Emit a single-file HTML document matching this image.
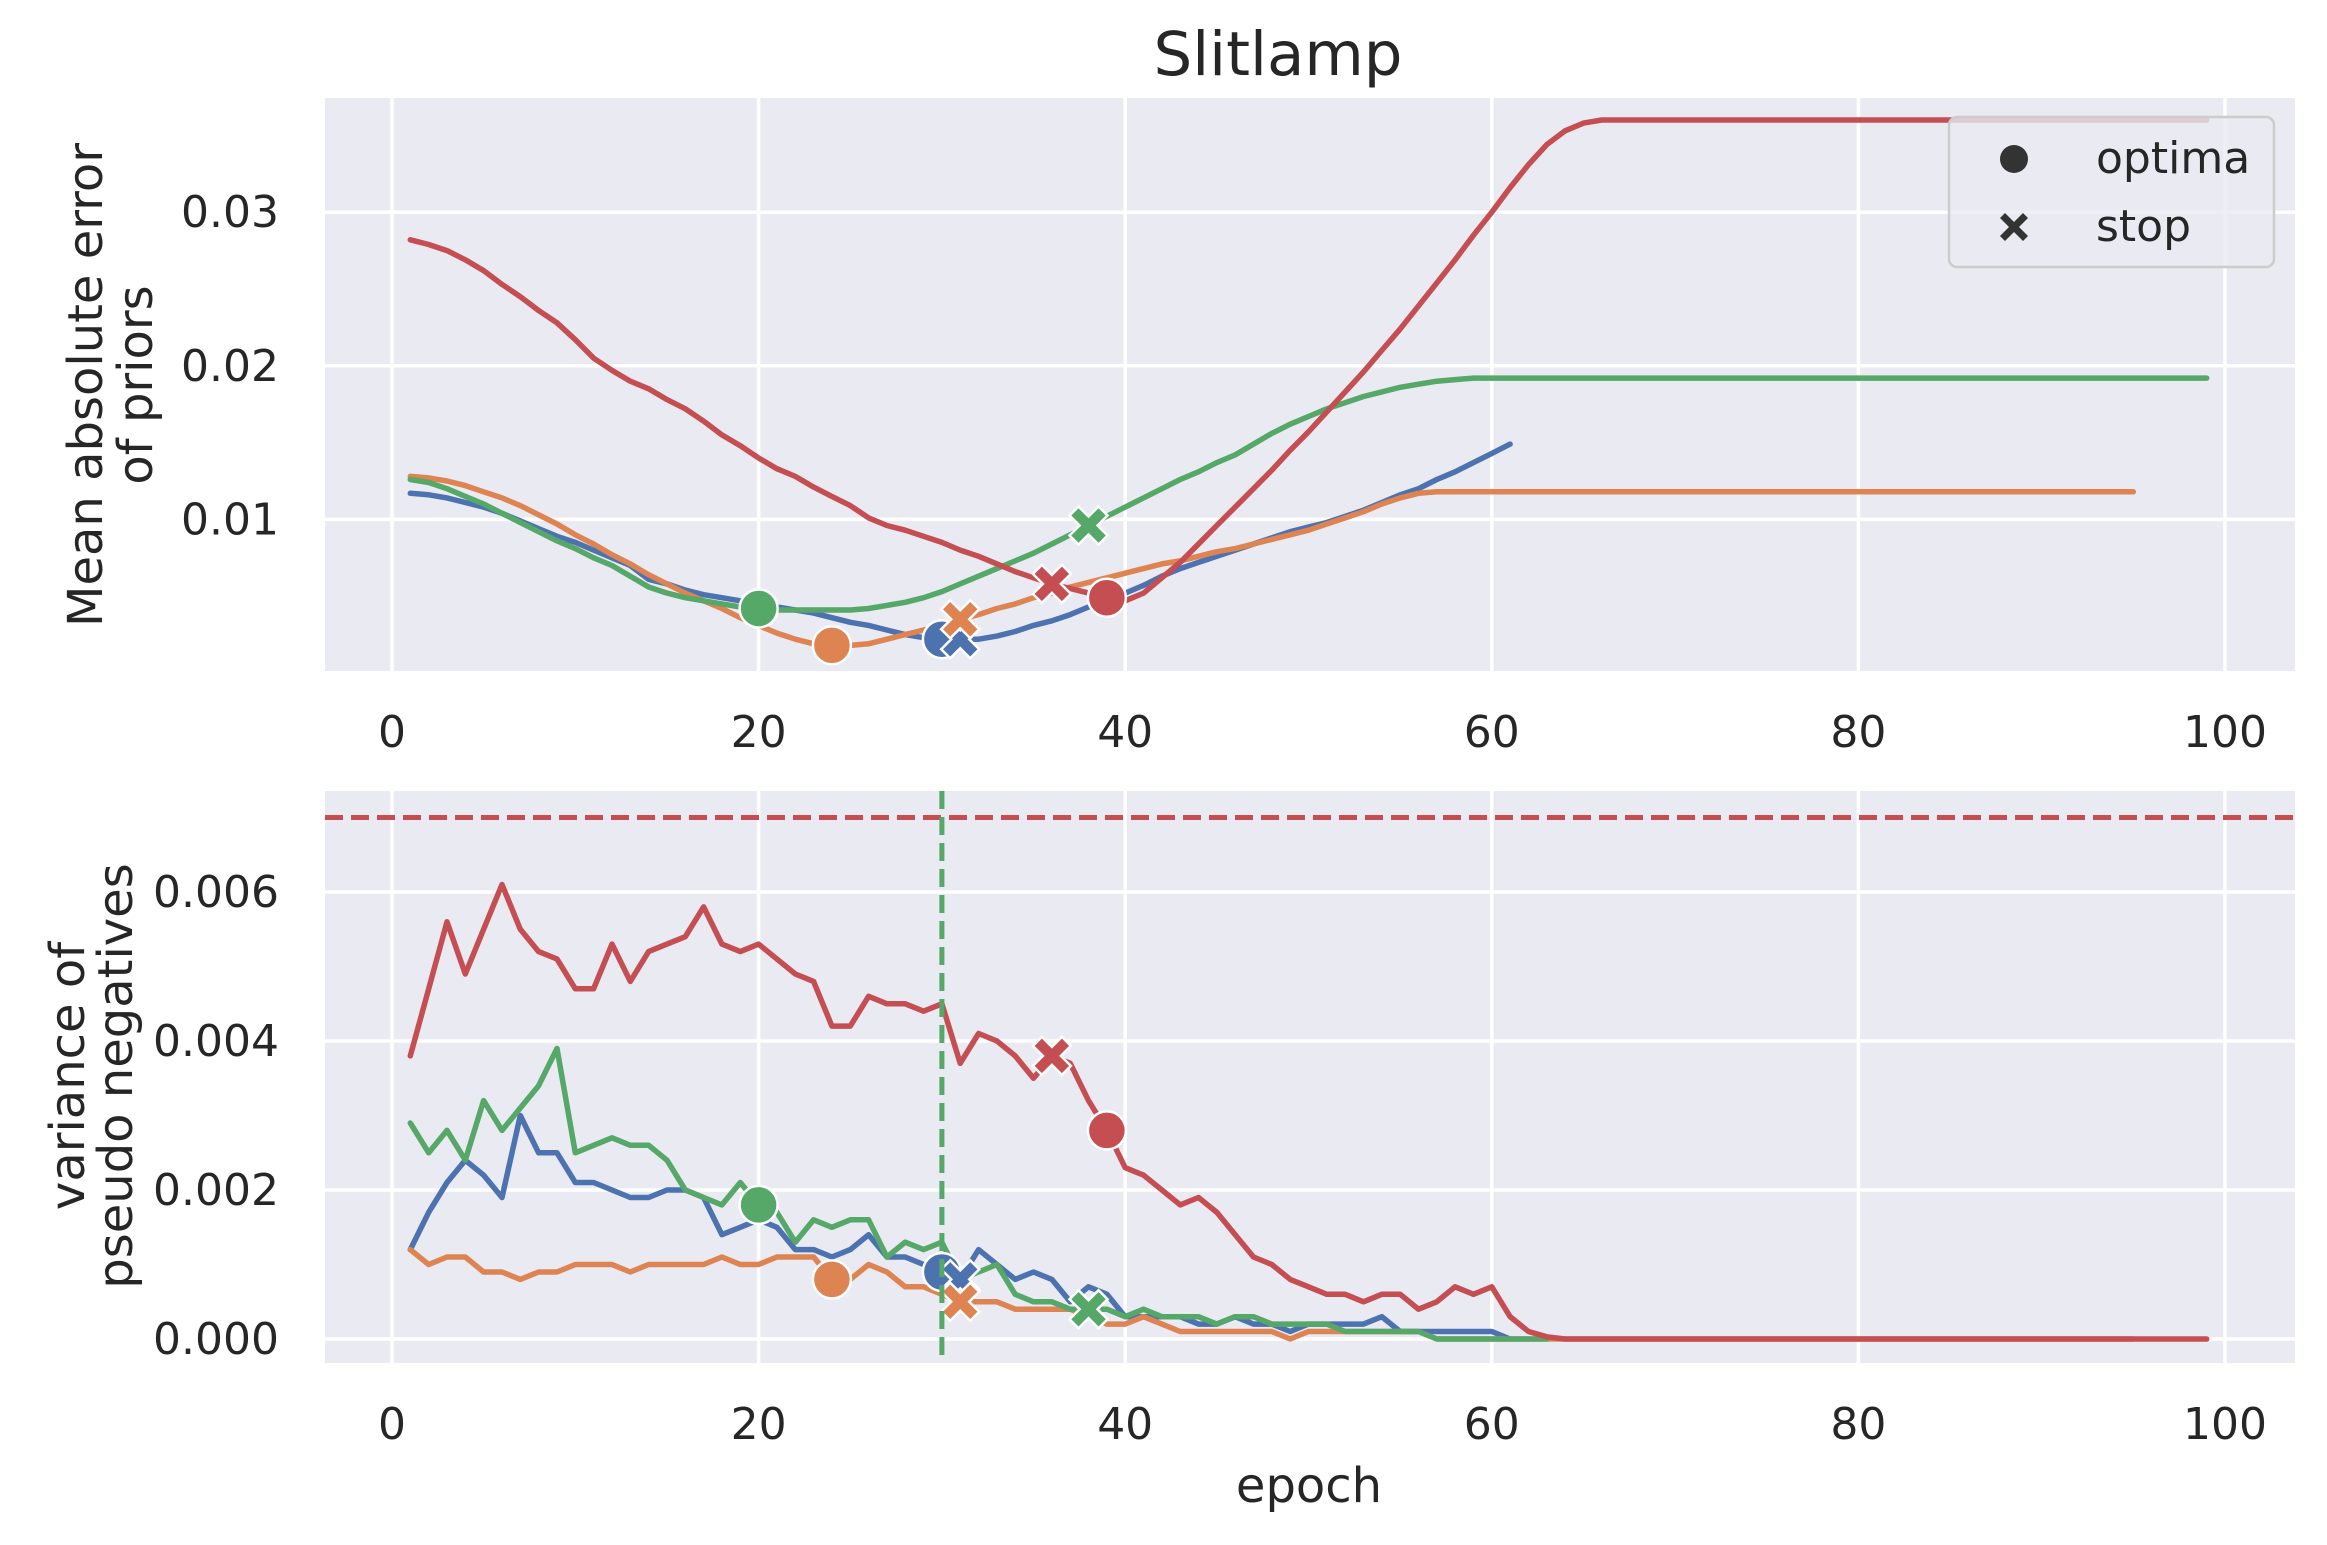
<!DOCTYPE html>
<html><head><meta charset="utf-8"><style>
html,body{margin:0;padding:0;background:#fff}
svg{display:block}
text{font-family:"DejaVu Sans","Liberation Sans",sans-serif;fill:#262626}
</style></head><body>
<svg id="chart" width="2327" height="1545" viewBox="0 0 2327 1545" xmlns="http://www.w3.org/2000/svg">
<g id="top"></g>
<g id="bot"></g>
<text x="1278" y="75" font-size="61" text-anchor="middle">Slitlamp</text>
<text transform="translate(102,385) rotate(-90)" font-size="48" text-anchor="middle">Mean absolute error</text>
<text transform="translate(152,385) rotate(-90)" font-size="48" text-anchor="middle">of priors</text>
<text transform="translate(84,1076) rotate(-90)" font-size="48" text-anchor="middle">variance of</text>
<text transform="translate(132,1076) rotate(-90)" font-size="48" text-anchor="middle">pseudo negatives</text>
<text x="1309" y="1502" font-size="48" text-anchor="middle">epoch</text>
<g>
<rect x="1949" y="117" width="325" height="150" rx="8" fill="#eaeaf2" fill-opacity="0.8" stroke="#cccccc" stroke-width="2.5"/>
<circle cx="2014" cy="159" r="14" fill="#333333"/>
<text x="2096" y="173" font-size="44">optima</text>
<path d="M2014,227 m-14,-9 l5,-5 l9,9 l9,-9 l5,5 l-9,9 l9,9 l-5,5 l-9,-9 l-9,9 l-5,-5 l9,-9 z" fill="#333333"/>
<text x="2096" y="241" font-size="44">stop</text>
</g>
</svg>
<script>
const xTicks=[0,20,40,60,80,100];
const topYTicks=[0.01,0.02,0.03];
const topYLabels=["0.01","0.02","0.03"];
const botYTicks=[0,0.002,0.004,0.006];
const botYLabels=["0.000","0.002","0.004","0.006"];
const topBlue=[.0117,.0116,.0114,.0111,.0108,.0104,.0099,.0094,.0089,.0085,.0080,.0075,.0070,.0061,.0058,.0054,.0051,.0049,.0047,.0045,.0043,.0041,.0039,.0036,.0033,.0031,.0028,.0025,.0023,.0022,.0022,.0022,.0024,.0027,.0031,.0034,.0038,.0043,.0048,.0052,.0057,.0063,.0068,.0072,.0076,.0080,.0084,.0088,.0092,.0095,.0098,.0102,.0106,.0111,.0116,.0120,.0126,.0131,.0137,.0143,.0149];
const topOrange=[.0128,.0127,.0125,.0122,.0118,.0114,.0109,.0103,.0097,.0090,.0084,.0077,.0071,.0064,.0058,.0052,.0047,.0042,.0036,.0031,.0026,.0022,.0019,.0018,.0018,.0019,.0022,.0025,.0028,.0031,.0035,.0038,.0042,.0045,.0049,.0052,.0056,.0059,.0062,.0065,.0068,.0071,.0073,.0076,.0079,.0081,.0084,.0087,.0090,.0093,.0097,.0101,.0105,.0110,.0114,.0117,.0118,.0118,.0118,.0118,.0118,.0118,.0118,.0118,.0118,.0118,.0118,.0118,.0118,.0118,.0118,.0118,.0118,.0118,.0118,.0118,.0118,.0118,.0118,.0118,.0118,.0118,.0118,.0118,.0118,.0118,.0118,.0118,.0118,.0118,.0118,.0118,.0118,.0118,.0118];
const topGreen=[.0126,.0124,.0120,.0115,.0110,.0104,.0098,.0092,.0086,.0081,.0075,.0070,.0063,.0056,.0052,.0049,.0047,.0045,.0043,.0042,.0041,.0041,.0041,.0041,.0041,.0042,.0044,.0046,.0049,.0053,.0058,.0063,.0068,.0073,.0078,.0084,.0090,.0096,.0102,.0108,.0114,.0120,.0126,.0131,.0137,.0142,.0149,.0156,.0162,.0167,.0172,.0176,.0180,.0183,.0186,.0188,.0190,.0191,.0192,.0192,.0192,.0192,.0192,.0192,.0192,.0192,.0192,.0192,.0192,.0192,.0192,.0192,.0192,.0192,.0192,.0192,.0192,.0192,.0192,.0192,.0192,.0192,.0192,.0192,.0192,.0192,.0192,.0192,.0192,.0192,.0192,.0192,.0192,.0192,.0192,.0192,.0192,.0192,.0192];
const topRed=[.0282,.0279,.0275,.0269,.0262,.0253,.0245,.0236,.0228,.0217,.0205,.0197,.0190,.0185,.0178,.0172,.0164,.0155,.0148,.0140,.0133,.0128,.0121,.0115,.0109,.0101,.0096,.0093,.0089,.0085,.0080,.0076,.0071,.0066,.0062,.0058,.0055,.0052,.0049,.0047,.0052,.0062,.0072,.0084,.0096,.0108,.0120,.0132,.0145,.0157,.0170,.0183,.0196,.0210,.0224,.0239,.0254,.0269,.0285,.0300,.0316,.0331,.0344,.0353,.0358,.0360,.0360,.0360,.0360,.0360,.0360,.0360,.0360,.0360,.0360,.0360,.0360,.0360,.0360,.0360,.0360,.0360,.0360,.0360,.0360,.0360,.0360,.0360,.0360,.0360,.0360,.0360,.0360,.0360,.0360,.0360,.0360,.0360,.0360];
const botBlue=[.0012,.0017,.0021,.0024,.0022,.0019,.0030,.0025,.0025,.0021,.0021,.0020,.0019,.0019,.0020,.0020,.0019,.0014,.0015,.0016,.0015,.0012,.0012,.0011,.0012,.0014,.0011,.0011,.0010,.0009,.0008,.0012,.0010,.0008,.0009,.0008,.0005,.0007,.0006,.0003,.0003,.0003,.0003,.0002,.0002,.0003,.0002,.0002,.0001,.0002,.0002,.0002,.0002,.0003,.0001,.0001,.0001,.0001,.0001,.0001,.0000];
const botOrange=[.0012,.0010,.0011,.0011,.0009,.0009,.0008,.0009,.0009,.0010,.0010,.0010,.0009,.0010,.0010,.0010,.0010,.0011,.0010,.0010,.0011,.0011,.0011,.0008,.0008,.0010,.0009,.0007,.0007,.0006,.0005,.0005,.0005,.0004,.0004,.0004,.0004,.0003,.0002,.0002,.0003,.0002,.0001,.0001,.0001,.0001,.0001,.0001,.0000,.0001,.0001,.0001,.0001,.0001,.0001,.0001,.0000,.0000,.0000,.0000,.0000,.0000,.0000,.0000,.0000,.0000,.0000,.0000,.0000,.0000,.0000,.0000,.0000,.0000,.0000,.0000,.0000,.0000,.0000,.0000,.0000,.0000,.0000,.0000,.0000,.0000,.0000,.0000,.0000,.0000,.0000,.0000,.0000,.0000,.0000];
const botGreen=[.0029,.0025,.0028,.0024,.0032,.0028,.0031,.0034,.0039,.0025,.0026,.0027,.0026,.0026,.0024,.0020,.0019,.0018,.0021,.0018,.0017,.0013,.0016,.0015,.0016,.0016,.0011,.0013,.0012,.0013,.0008,.0009,.0010,.0006,.0005,.0005,.0004,.0004,.0004,.0003,.0004,.0003,.0003,.0003,.0002,.0003,.0003,.0002,.0002,.0002,.0002,.0001,.0001,.0001,.0001,.0001,.0000,.0000,.0000,.0000,.0000,.0000,.0000];
const botRed=[.0038,.0047,.0056,.0049,.0055,.0061,.0055,.0052,.0051,.0047,.0047,.0053,.0048,.0052,.0053,.0054,.0058,.0053,.0052,.0053,.0051,.0049,.0048,.0042,.0042,.0046,.0045,.0045,.0044,.0045,.0037,.0041,.0040,.0038,.0035,.0038,.0037,.0032,.0028,.0023,.0022,.0020,.0018,.0019,.0017,.0014,.0011,.0010,.0008,.0007,.0006,.0006,.0005,.0006,.0006,.0004,.0005,.0007,.0006,.0007,.0003,.0001,.00003,0,0,0,0,0,0,0,0,0,0,0,0,0,0,0,0,0,0,0,0,0,0,0,0,0,0,0,0,0,0,0,0,0,0,0,0];
const seriesNames=["blue","orange","green","red"];
const optimaEpoch=[30,24,20,39];
const stopEpoch=[31,31,38,36];
const thresholdLine=0.007;
const earlyStopEpoch=30;

const colors=["#4c72b0","#dd8452","#55a868","#c44e52"];
const NS="http://www.w3.org/2000/svg";
const X0=392,X1=2225;
const xs=e=>X0+(X1-X0)*e/100;
const L=325,R=2295;
const topAx={top:98,bottom:671,y:v=>519.4-(v-0.01)*15360};
const botAx={top:791,bottom:1363,y:v=>1339-v*74500};
function mk(tag,attrs,parent){const el=document.createElementNS(NS,tag);for(const k in attrs)el.setAttribute(k,attrs[k]);parent.appendChild(el);return el;}
function panel(g,ax,yt,yl,series,isTop){
  const bg=mk('rect',{x:L,y:ax.top,width:R-L,height:ax.bottom-ax.top,fill:'#eaeaf2'},g);
  
  
  xTicks.forEach(t=>{
    const ln=mk('line',{x1:xs(t),x2:xs(t),y1:ax.top,y2:ax.bottom,stroke:'#fff','stroke-width':3.5},g);
    
    
    const tx=mk('text',{x:xs(t),y:ax.bottom+76,'font-size':44,'text-anchor':'middle'},g);
    tx.textContent=t;
    
    
  });
  yt.forEach((t,i)=>{
    const ln=mk('line',{x1:L,x2:R,y1:ax.y(t),y2:ax.y(t),stroke:'#fff','stroke-width':3.5},g);
    
    
    const tx=mk('text',{x:279,y:ax.y(t)+15,'font-size':44,'text-anchor':'end'},g);
    tx.textContent=yl[i];
    
    
  });
  if(!isTop){
    const h=mk('line',{x1:L,x2:R,y1:ax.y(thresholdLine),y2:ax.y(thresholdLine),stroke:colors[3],'stroke-width':5,'stroke-dasharray':'18,8'},g);
    
    
  }
  series.forEach((s,i)=>{
    const pts=s.map((v,k)=>xs(k+1).toFixed(1)+','+ax.y(v).toFixed(1)).join(' ');
    const pl=mk('polyline',{points:pts,fill:'none',stroke:colors[i],'stroke-width':5.5,'stroke-linejoin':'round','stroke-linecap':'round'},g);
    
    
  });
  series.forEach((s,i)=>{
    const oe=optimaEpoch[i],se=stopEpoch[i];
    const c=mk('circle',{cx:xs(oe),cy:ax.y(s[oe-1]),r:19,fill:colors[i],stroke:'#fff','stroke-width':2.5},g);
    
    
    const cx=xs(se),cy=ax.y(s[se-1]);
    const p=mk('path',{d:`M${cx},${cy} m-19,-10 l9,-9 l10,10 l10,-10 l9,9 l-10,10 l10,10 l-9,9 l-10,-10 l-10,10 l-9,-9 l10,-10 z`,fill:colors[i],stroke:'#fff','stroke-width':2.5},g);
    
    
  });
  if(!isTop){
    const v=mk('line',{x1:xs(earlyStopEpoch),x2:xs(earlyStopEpoch),y1:ax.top,y2:ax.bottom,stroke:colors[2],'stroke-width':5,'stroke-dasharray':'18,8'},g);
    
    
  }
}
panel(document.getElementById('top'),topAx,topYTicks,topYLabels,[topBlue,topOrange,topGreen,topRed],true);
panel(document.getElementById('bot'),botAx,botYTicks,botYLabels,[botBlue,botOrange,botGreen,botRed],false);
</script>
</body></html>
